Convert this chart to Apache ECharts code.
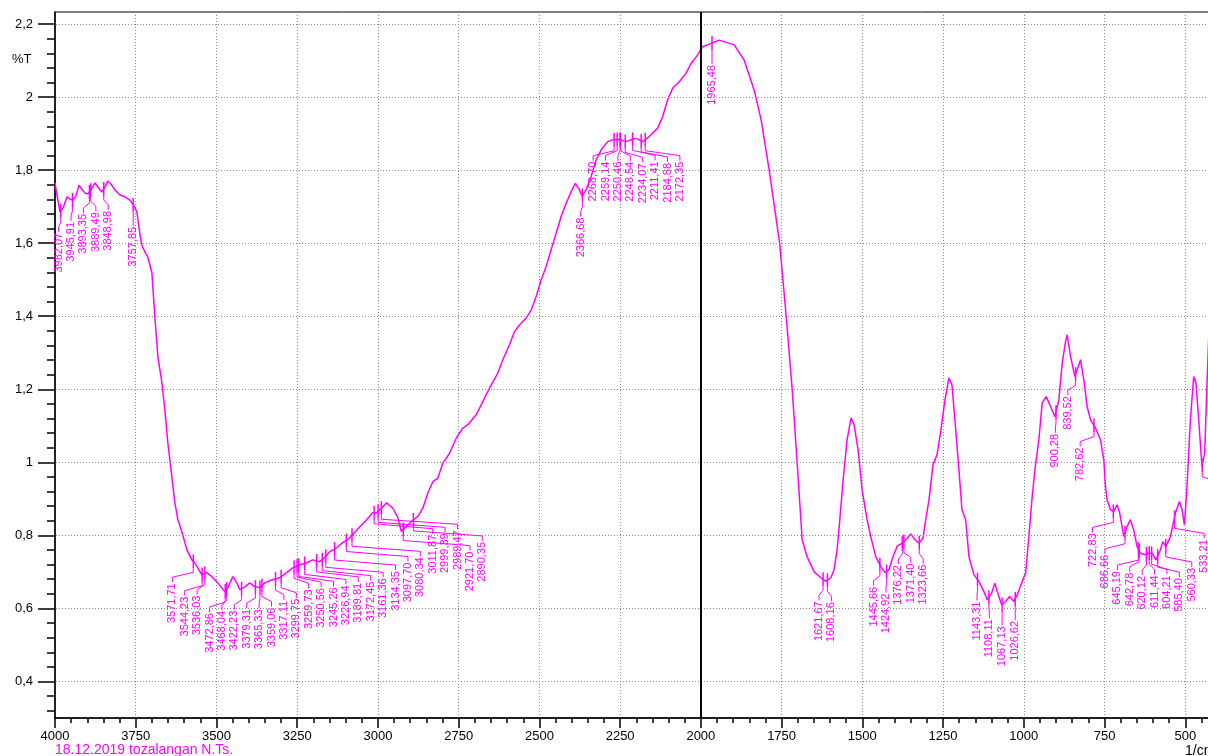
<!DOCTYPE html>
<html><head><meta charset="utf-8">
<script src="https://cdn.jsdelivr.net/npm/echarts@6/dist/echarts.min.js"></script>
<style>html,body{margin:0;padding:0;background:#fff}#c{width:1208px;height:756px}</style>
</head><body><div id="c"></div>
<script>
// ---- data (wavenumber, 1/cm  ->  %T) ----
const WAVENUMBER = [4000,3993.8,3984.5,3975.3,3962.9,3953.6,3944.3,3935,3925.8,3919.6,3907.2,3897.9,3888.6,3876.3,3867,3854.6,3845.3,3836.1,3826.8,3814.4,3798.9,3783.5,3768,3755.6,3746.4,3737.1,3731,3721.6,3712.3,3700,3690.7,3681.4,3669,3659.8,3650.5,3638.1,3628.8,3619.5,3607.2,3591.7,3576.2,3567,3557.7,3545.3,3529.8,3514.4,3495.8,3474.2,3464.9,3449.4,3437.1,3427.8,3412.3,3396.8,3381.4,3365.9,3350.4,3328.8,3304.1,3282.4,3263.8,3242.2,3220.5,3202,3180.3,3164.9,3149.4,3127.7,3109.2,3093.7,3078.3,3056.6,3035,3016.4,3004,2988.6,2973.1,2954.5,2939.1,2927.6,2912.1,2896.7,2876.2,2860.8,2845.4,2829.9,2814.4,2798.9,2778.2,2757.5,2737.1,2721.6,2695.6,2675.2,2654.5,2628.8,2613.3,2592.6,2577.2,2561.7,2541,2525.5,2510,2494.6,2479.1,2463.6,2448.2,2432.7,2417.3,2401.8,2388.5,2376.1,2367.8,2355.4,2339.9,2324.4,2308.9,2288.6,2273.1,2252.4,2231.7,2216.2,2200.7,2180.3,2159.6,2133.9,2118.4,2103,2087.5,2066.8,2046.1,2030.6,2010.2,1994.7,1974,1943.1,1896.7,1865.8,1834.8,1813.2,1788.4,1756,1735.8,1717.2,1701.8,1686.3,1670.8,1649.2,1628.5,1613,1597.6,1587.4,1578.1,1569.7,1559.5,1547.2,1534.8,1525.5,1513.1,1500.7,1485.3,1474,1458.5,1443.1,1429.6,1417.3,1404.9,1391.6,1376.2,1360.7,1350.2,1336.9,1324.5,1312.1,1303.8,1293.6,1281.3,1268.9,1256.5,1244.1,1231.8,1222.5,1213.2,1200.8,1191.5,1180,1169.8,1154.3,1138.9,1123.4,1113.2,1099.6,1089.4,1082.2,1068.6,1056.2,1043.9,1030.6,1020.4,1004.9,994.4,984.2,974.9,965.7,953.3,943.1,930.7,917.1,903.8,891.4,881.2,870.7,865.8,855.2,841.9,831.7,824.3,814.1,803.9,793.4,777.9,762.5,752.3,747.1,742.1,731.6,721.4,711.2,703.8,690.5,680.3,669.8,659.6,649.4,638.8,625.5,615.3,602.9,590.5,576.9,569.8,559.5,545.9,530.4,518,510,502.6,494.6,484.2,473.9,466.7,458.4,448.2,439.8,433.7,425];
const TRANSMITTANCE = [1.765,1.732,1.686,1.696,1.727,1.721,1.718,1.729,1.759,1.751,1.737,1.735,1.746,1.765,1.754,1.740,1.754,1.770,1.762,1.746,1.732,1.727,1.718,1.702,1.686,1.625,1.595,1.576,1.562,1.519,1.398,1.289,1.218,1.144,1.053,0.960,0.889,0.843,0.810,0.761,0.733,0.725,0.711,0.692,0.698,0.687,0.670,0.646,0.657,0.687,0.670,0.651,0.659,0.670,0.659,0.657,0.670,0.678,0.684,0.698,0.711,0.719,0.725,0.733,0.728,0.739,0.755,0.766,0.780,0.788,0.802,0.823,0.843,0.862,0.862,0.875,0.889,0.875,0.851,0.811,0.824,0.838,0.852,0.875,0.916,0.947,0.957,0.998,1.025,1.066,1.094,1.103,1.130,1.166,1.203,1.244,1.281,1.322,1.358,1.376,1.395,1.417,1.454,1.499,1.536,1.582,1.627,1.673,1.709,1.741,1.764,1.746,1.729,1.746,1.782,1.828,1.855,1.878,1.883,1.884,1.878,1.883,1.887,1.878,1.892,1.915,1.946,1.992,2.024,2.042,2.065,2.092,2.115,2.138,2.145,2.156,2.143,2.101,2.019,1.937,1.800,1.600,1.400,1.200,1.000,0.788,0.741,0.700,0.684,0.674,0.684,0.706,0.761,0.843,0.952,1.062,1.122,1.103,1.034,0.925,0.843,0.797,0.742,0.715,0.698,0.706,0.742,0.771,0.779,0.792,0.804,0.788,0.779,0.792,0.843,0.897,0.993,1.020,1.089,1.171,1.231,1.212,1.116,0.979,0.870,0.843,0.742,0.692,0.674,0.646,0.624,0.642,0.669,0.646,0.610,0.619,0.633,0.619,0.637,0.674,0.697,0.797,0.897,0.979,1.062,1.162,1.180,1.153,1.125,1.171,1.271,1.331,1.349,1.290,1.235,1.262,1.281,1.226,1.153,1.116,1.094,1.062,1.007,0.934,0.897,0.870,0.865,0.884,0.865,0.797,0.824,0.843,0.815,0.770,0.751,0.747,0.751,0.751,0.733,0.760,0.783,0.770,0.797,0.861,0.893,0.870,0.829,0.934,1.116,1.235,1.217,1.116,0.988,1.026,1.190,1.400];
const PEAKS = [3982.07,3945.91,3893.35,3889.49,3848.98,3757.85,
  3571.71,3544.23,3536.03,3472.86,3468.04,3422.23,3379.31,3365.33,3359.06,3317.11,3299.75,3259.73,3250.56,3245.26,3226.94,3189.81,3172.45,3161.36,3134.35,3097.70,3080.34,3011.87,2999.39,2989.47,2921.70,2890.35,
  2366.68,2268.70,2259.14,2250.46,2248.54,2234.07,2211.41,2184.88,2172.35,1965.48,
  1621.67,1608.16,1445.66,1424.92,1376.22,1371.40,1323.66,1143.31,1108.11,1067.13,1026.62,
  900.28,839.52,782.62,722.83,686.66,645.19,642.78,620.12,611.44,604.21,585.40,560.33,533.21,447.52];
const Y_TICKS = [0.4,0.6,0.8,1.0,1.2,1.4,1.6,1.8,2.0,2.2];
const X_MIN = 250, X_MAX = 4000, X_STEP = 250;
const Y_MIN = 0.3, Y_MAX = 2.233;
const MARKER_WN = 2000;
const TITLE = '18.12.2019 tozalangan N.Ts.';
const X_UNIT = '1/cm', Y_UNIT = '%T';

const SPECTRUM = WAVENUMBER.map((w, i) => [w, TRANSMITTANCE[i]]);
function interp(w) {
  for (let i = 0; i < WAVENUMBER.length - 1; i++) {
    const a = WAVENUMBER[i], b = WAVENUMBER[i + 1];
    if (w <= a && w >= b) { const t = (a - w) / (a - b); return TRANSMITTANCE[i] + t * (TRANSMITTANCE[i + 1] - TRANSMITTANCE[i]); }
  }
  return TRANSMITTANCE[TRANSMITTANCE.length - 1];
}
const minorY = [];
(function () {
  const all = [Y_MIN - 0.1].concat(Y_TICKS);
  for (let k = 0; k < all.length - 1; k++) {
    for (let j = 1; j < 5; j++) { const v = +(all[k] + (all[k + 1] - all[k]) * j / 5).toFixed(3); if (v > Y_MIN && v < Y_MAX) minorY.push(v); }
  }
})();

const MAG = '#ff00ff';
const FONT = '"Liberation Sans", Arial, sans-serif';
let layoutCache = null;
function computeLayout(api) {
  const pts = PEAKS.map((w, i) => { const c = api.coord([w, interp(w)]); return { i, px: c[0], py: c[1] }; });
  const order = pts.slice().sort((a, b) => a.px - b.px);
  const D = 12.4, L = 21;
  const blocks = [];
  const pos = b => Math.max(b.sum / b.n, b.lb);
  order.forEach((pt, k) => {
    blocks.push({ start: k, n: 1, sum: pt.px, lb: pt.px - L });
    while (blocks.length > 1) {
      const b2 = blocks[blocks.length - 1], b1 = blocks[blocks.length - 2];
      if (pos(b1) + b1.n * D > pos(b2) + 0.01) {
        blocks.pop(); blocks.pop();
        blocks.push({ start: b1.start, n: b1.n + b2.n, sum: b1.sum + b2.sum - b2.n * b1.n * D, lb: Math.max(b1.lb, b2.lb - b1.n * D) });
      } else break;
    }
  });
  const res = [];
  blocks.forEach(b => { const x0 = pos(b); for (let j = 0; j < b.n; j++) { const pt = order[b.start + j]; res[pt.i] = { px: pt.px, py: pt.py, lx: x0 + j * D }; } });
  return res;
}

const chart = echarts.init(document.getElementById('c'), null, { renderer: 'canvas' });
chart.setOption({
  animation: false,
  backgroundColor: '#fff',
  grid: { left: 55, right: -58, top: 12, bottom: 38, containLabel: false, outerBoundsMode: 'none',
    show: true, borderColor: '#000', borderWidth: 1, backgroundColor: 'transparent' },
  xAxis: {
    type: 'value', inverse: true, min: X_MIN, max: X_MAX, interval: X_STEP,
    axisLine: { show: true, onZero: false, lineStyle: { color: '#000', width: 1.5 } },
    axisTick: { show: true, length: 10, lineStyle: { color: '#000', width: 1.5 } },
    minorTick: { show: true, splitNumber: 5, length: 5, lineStyle: { color: '#000', width: 1.5 } },
    axisLabel: { color: '#000', fontSize: 13, fontFamily: FONT, margin: 12, showMinLabel: true, showMaxLabel: true,
      formatter: v => String(Math.round(v)) },
    splitLine: { show: true, lineStyle: { type: [1, 2], color: '#888', width: 1 } }
  },
  yAxis: [
    {
      type: 'value', min: Y_MIN, max: Y_MAX, position: 'left',
      axisLine: { show: true, onZero: false, lineStyle: { color: '#000', width: 1.5 } },
      axisTick: { show: true, customValues: Y_TICKS, length: 17, lineStyle: { color: '#000', width: 1.5 } },
      axisLabel: { customValues: Y_TICKS, color: '#000', fontSize: 13, fontFamily: FONT, margin: 22,
        formatter: v => String(+(+v).toFixed(1)).replace('.', ',') },
      splitLine: { show: false }
    },
    {
      type: 'value', min: Y_MIN, max: Y_MAX, position: 'left',
      axisLine: { show: false },
      axisTick: { show: true, customValues: minorY, length: 8, lineStyle: { color: '#000', width: 1.5 } },
      axisLabel: { show: false }, splitLine: { show: false }
    }
  ],
  series: [
    {
      type: 'line', z: 1, data: [[X_MAX, Y_MAX]], showSymbol: false, lineStyle: { opacity: 0 }, silent: true,
      markLine: { silent: true, symbol: 'none', label: { show: false },
        lineStyle: { type: [1, 2], color: '#888', width: 1 },
        data: Y_TICKS.map(v => ({ yAxis: v })).concat([{ xAxis: MARKER_WN, lineStyle: { type: 'solid', color: '#000', width: 2 } }]) }
    },
    {
      type: 'line', z: 3, data: SPECTRUM, showSymbol: false, smooth: false,
      lineStyle: { color: MAG, width: 1.5 }
    },
    {
      type: 'custom', z: 4, coordinateSystem: 'cartesian2d', clip: false,
      data: PEAKS.map(w => [w, interp(w)]),
      encode: { x: 0, y: 1 },
      renderItem: function (params, api) {
        if (params.dataIndex === 0 || !layoutCache) layoutCache = computeLayout(api);
        const p = layoutCache[params.dataIndex];
        const top = p.py + 22;
        const txt = PEAKS[params.dataIndex].toFixed(2).replace('.', ',');
        return { type: 'group', children: [
          { type: 'line', shape: { x1: p.px, y1: p.py - 7, x2: p.px, y2: p.py + 7 }, style: { stroke: MAG, lineWidth: 1.5 } },
          { type: 'polyline', shape: { points: [[p.px, p.py + 7], [p.px, p.py + 11], [p.lx, top - 6], [p.lx, top - 1]] }, style: { stroke: MAG, lineWidth: 1, fill: null } },
          { type: 'text', x: p.lx, y: top, rotation: Math.PI / 2, style: { text: txt, fill: MAG, font: '11px ' + FONT, align: 'right', verticalAlign: 'middle' } }
        ] };
      }
    }
  ],
  graphic: [
    { type: 'text', left: 12, top: 53, style: { text: Y_UNIT, fill: '#000', font: '13px ' + FONT } },
    { type: 'text', left: 55, top: 743, style: { text: TITLE, fill: MAG, font: '14px ' + FONT } },
    { type: 'text', left: 1185, top: 744, style: { text: X_UNIT, fill: '#000', font: '14px ' + FONT } }
  ]
});
</script></body></html>
